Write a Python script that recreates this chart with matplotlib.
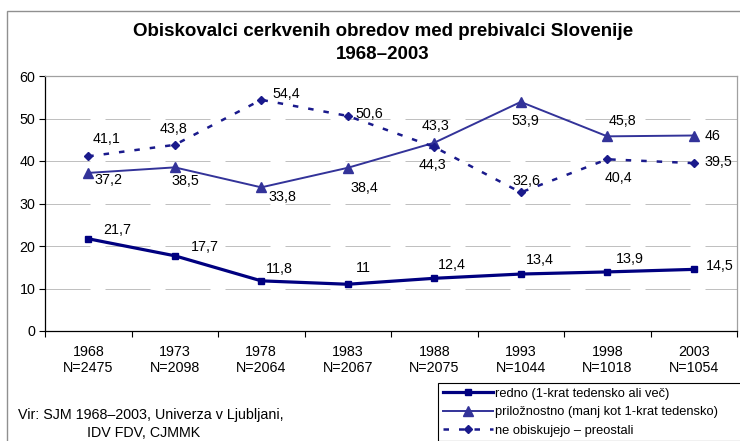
import numpy as np
import matplotlib
matplotlib.use("Agg")
import matplotlib.pyplot as plt
from matplotlib.patches import Rectangle

plt.rcParams['font.family'] = ['Liberation Sans', 'DejaVu Sans']

years = ["1968", "1973", "1978", "1983", "1988", "1993", "1998", "2003"]
sizes = ["N=2475", "N=2098", "N=2064", "N=2067", "N=2075", "N=1044", "N=1018", "N=1054"]
redno = [21.7, 17.7, 11.8, 11, 12.4, 13.4, 13.9, 14.5]
priloznostno = [37.2, 38.5, 33.8, 38.4, 44.3, 53.9, 45.8, 46]
ne_obiskujejo = [41.1, 43.8, 54.4, 50.6, 43.3, 32.6, 40.4, 39.5]

# label offsets in pixels (dx, dy up)
off_redno = [(29, 9), (30, 9), (18, 12), (16, 16), (18, 13), (19, 14), (23, 13), (26, 3)]
off_pril = [(20, -7), (11, -14), (21, -10), (17, -20), (-2, -22), (5, -19), (15, 15), (19, -1)]
off_ne = [(18, 17), (-1, 16), (25, 6), (22, 2), (1, 21), (6, 11), (11, -19), (25, 1)]

W, H = 740, 441
fig = plt.figure(figsize=(W / 100, H / 100), dpi=100)
ax = fig.add_axes([45 / W, (H - 331) / H, (737 - 45) / W, (331 - 76) / H])

x = np.arange(len(years))
c1, c2, c3 = "#000080", "#333399", "#1a1a8c"
l1, = ax.plot(x, redno, color=c1, lw=2.3, marker="s", ms=4.5, zorder=4)
l2, = ax.plot(x, priloznostno, color=c2, lw=1.4, marker="^", ms=6.5, zorder=4)
l3, = ax.plot(x, ne_obiskujejo, color=c3, lw=1.8, ls=(0, (2.2, 4.0)),
              marker="D", ms=4.5, zorder=4)

def fmt(v):
    return (f"{v:g}").replace(".", ",")

for vals, offs in [(redno, off_redno), (priloznostno, off_pril), (ne_obiskujejo, off_ne)]:
    for xi, v, (dx, dy) in zip(x, vals, offs):
        ax.annotate(fmt(v), (xi, v), xytext=(dx * 0.72, dy * 0.72),
                    textcoords="offset points", ha="center", va="center",
                    fontsize=10.3, color="black", zorder=5)

ax.set_xlim(-0.5, 7.5)
ax.set_ylim(0, 60)
ax.set_yticks(range(0, 61, 10))
ax.set_xticks(x)
ax.set_xticklabels([f"{y}\n{n}" for y, n in zip(years, sizes)], fontsize=10.3,
                   linespacing=1.15)
ax.set_xticks(np.arange(-0.5, 8, 1), minor=True)
ax.tick_params(axis="x", which="major", length=0, pad=10)
ax.tick_params(axis="x", which="minor", length=4, width=0.8, direction="out")
ax.tick_params(axis="y", length=4, width=0.8, direction="out", labelsize=10.3, pad=3)

ax.yaxis.grid(True, color="#c0c0c0", lw=0.72, ls=(0, (45, 15)))
ax.set_axisbelow(True)
for s in ["left", "bottom"]:
    ax.spines[s].set_color("black")
    ax.spines[s].set_linewidth(0.9)
for s in ["top", "right"]:
    ax.spines[s].set_color("#a0a0a0")
    ax.spines[s].set_linewidth(0.9)

fig.text(383 / W, 1 - 43 / H, "Obiskovalci cerkvenih obredov med prebivalci Slovenije\n1968–2003",
         ha="center", va="center", fontsize=13.5, fontweight="bold", linespacing=1.4)

fig.text(18 / W, 1 - 415 / H, "Vir: SJM 1968–2003, Univerza v Ljubljani,",
         ha="left", va="center", fontsize=10.3)
fig.text(87 / W, 1 - 433 / H, "IDV FDV, CJMMK", ha="left", va="center", fontsize=10.3)

leg = fig.legend([l1, l2, l3],
                 ["redno (1-krat tedensko ali več)",
                  "priložnostno (manj kot 1-krat tedensko)",
                  "ne obiskujejo – preostali"],
                 loc="upper left", bbox_to_anchor=(438 / W, 0, 320 / W, 1 - 383 / H),
                 mode="expand",
                 fontsize=9.3, handlelength=3.9, handletextpad=0.2,
                 labelspacing=0.5, borderpad=0.35, borderaxespad=0,
                 fancybox=False, framealpha=1, edgecolor="black")
leg.get_frame().set_linewidth(0.8)

fig.patches.append(Rectangle((7 / W, -0.05), 1.2, 1 - 11 / H + 0.05,
                             transform=fig.transFigure, fill=False,
                             edgecolor="#909090", lw=1.0, zorder=0))

fig.savefig("out.png", dpi=100)
